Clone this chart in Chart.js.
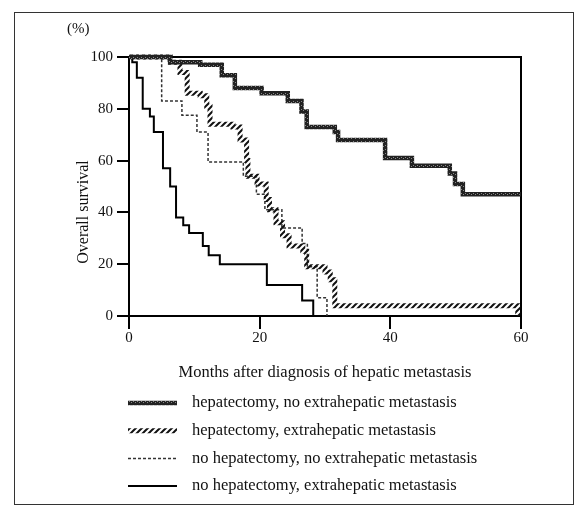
<!DOCTYPE html>
<html>
<head>
<meta charset="utf-8">
<script src="https://cdn.jsdelivr.net/npm/chart.js@4.4.0/dist/chart.umd.min.js"></script>
<style>
  html, body { margin: 0; padding: 0; background: #fff; }
  canvas { display: block; }
</style>
</head>
<body>
<canvas id="survivalChart" width="575" height="506"></canvas>
<script>
// Kaplan-Meier steps: month of each drop and survival (%) after it
const monthsA = [0, 6.3, 10.9, 14.2, 16.2, 20.3, 24.3, 26.4, 27.2, 31.5, 32.0, 39.2, 43.3, 49.1, 49.9, 51.1, 60];
const survA   = [100, 98, 97, 93, 88, 86, 83, 79, 73, 71, 68, 61, 58, 55, 51, 47, 47];

const monthsB = [0, 6.3, 7.8, 8.9, 10.9, 11.9, 12.4, 15.9, 17.0, 18.0, 18.2, 19.6, 21.0, 21.5, 22.5, 23.5, 24.5, 26.6, 27.2, 30.0, 30.8, 31.5, 59.5];
const survB   = [100, 98, 94, 86, 85, 81, 74, 73, 68, 60, 54, 51, 45, 41, 36, 31, 27, 25, 19, 17, 14, 4, 0];

const monthsC = [0, 5.0, 8.1, 10.4, 12.1, 17.5, 19.5, 20.8, 23.4, 26.5, 27.3, 28.8, 30.3];
const survC   = [100, 83, 77.5, 71, 59.5, 54, 47, 41, 34, 28, 19, 7, 0];

const monthsD = [0, 0.5, 1.2, 2.1, 3.2, 3.8, 5.2, 6.3, 7.2, 8.3, 9.2, 11.3, 12.2, 13.9, 21.1, 26.5, 28.2];
const survD   = [100, 98, 92, 80, 77, 71, 57, 50, 38, 35, 32, 27, 23.5, 20, 12, 6, 0];

const groupLabels = [
    'hepatectomy, no extrahepatic metastasis',
    'hepatectomy, extrahepatic metastasis',
    'no hepatectomy, no extrahepatic metastasis',
    'no hepatectomy, extrahepatic metastasis'
];
const xTicks = [0, 20, 40, 60];
const yTicks = [0, 20, 40, 60, 80, 100];

const SERIF = "'Liberation Serif', 'DejaVu Serif', serif";
const INK = '#111';

// hatched band like the printed figure
function hatchPattern() {
    const c = document.createElement('canvas');
    c.width = 6; c.height = 6;
    const g = c.getContext('2d');
    g.strokeStyle = '#111';
    g.lineWidth = 2;
    g.beginPath();
    g.moveTo(0, 6); g.lineTo(6, 0);
    g.moveTo(-3, 3); g.lineTo(3, -3);
    g.moveTo(3, 9); g.lineTo(9, 3);
    g.stroke();
    return g.createPattern(c, 'repeat');
}

// dark stippled band
function stipplePattern() {
    const c = document.createElement('canvas');
    c.width = 4; c.height = 4;
    const g = c.getContext('2d');
    g.fillStyle = '#222';
    g.fillRect(0, 0, 4, 4);
    g.fillStyle = '#8a8a8a';
    g.fillRect(1, 1, 1, 1);
    g.fillRect(3, 2, 1, 1);
    return g.createPattern(c, 'repeat');
}

const toPoints = (xs, ys) => xs.map((x, i) => ({ x: x, y: ys[i] }));

const paperPlugin = {
    id: 'paper',
    beforeDatasetsDraw(chart) {
        const ctx = chart.ctx;
        const a = chart.chartArea;
        ctx.save();
        ctx.strokeStyle = '#000';
        ctx.lineWidth = 2;
        ctx.beginPath();
        ctx.moveTo(a.left, a.top);
        ctx.lineTo(a.right, a.top);
        ctx.lineTo(a.right, a.bottom);
        ctx.stroke();
        ctx.restore();
    },
    afterDraw(chart) {
        const ctx = chart.ctx;
        ctx.save();

        // outer frame of the figure
        ctx.strokeStyle = '#333';
        ctx.lineWidth = 1;
        ctx.strokeRect(14.5, 12.5, 559, 492);

        ctx.fillStyle = INK;
        ctx.font = '15px ' + SERIF;
        ctx.textAlign = 'left';
        ctx.textBaseline = 'middle';
        ctx.fillText('(%)', 67, 29);

        // y title
        ctx.save();
        ctx.translate(84, 212);
        ctx.rotate(-Math.PI / 2);
        ctx.font = '16px ' + SERIF;
        ctx.textAlign = 'center';
        ctx.fillText('Overall survival', 0, 0);
        ctx.restore();

        // x title
        ctx.font = '16.5px ' + SERIF;
        ctx.textAlign = 'center';
        ctx.fillText('Months after diagnosis of hepatic metastasis', 325, 373);

        // legend
        chart.data.datasets.forEach((ds, i) => {
            const y = 403 + i * 27.7;
            ctx.save();
            ctx.strokeStyle = ds.borderColor;
            ctx.lineWidth = ds.borderWidth;
            ctx.setLineDash(ds.borderDash || []);
            ctx.beginPath();
            ctx.moveTo(128, y);
            ctx.lineTo(177, y);
            ctx.stroke();
            ctx.restore();
            ctx.textAlign = 'left';
            ctx.fillText(ds.label, 192, y);
        });
        ctx.restore();
    }
};

const baseSet = {
    stepped: 'before',
    pointRadius: 0,
    fill: false,
    tension: 0,
    clip: 8
};

new Chart(document.getElementById('survivalChart').getContext('2d'), {
    type: 'line',
    data: {
        datasets: [
            Object.assign({}, baseSet, {
                label: groupLabels[0],
                data: toPoints(monthsA, survA),
                borderColor: stipplePattern(),
                borderWidth: 4.5
            }),
            Object.assign({}, baseSet, {
                label: groupLabels[1],
                data: toPoints(monthsB, survB),
                borderColor: hatchPattern(),
                borderWidth: 5
            }),
            Object.assign({}, baseSet, {
                label: groupLabels[2],
                data: toPoints(monthsC, survC),
                borderColor: '#333',
                borderWidth: 1.5,
                borderDash: [3, 2]
            }),
            Object.assign({}, baseSet, {
                label: groupLabels[3],
                data: toPoints(monthsD, survD),
                borderColor: '#000',
                borderWidth: 2
            })
        ]
    },
    options: {
        responsive: false,
        animation: false,
        layout: { padding: { left: 0, top: 57, right: 54, bottom: 0 } },
        scales: {
            x: {
                type: 'linear',
                min: 0,
                max: 60,
                afterBuildTicks: s => { s.ticks = xTicks.map(v => ({ value: v })); },
                afterFit: s => { s.height = 190; },
                ticks: { color: INK, font: { family: SERIF, size: 15 }, padding: 0, maxRotation: 0 },
                grid: { drawOnChartArea: false, drawTicks: true, tickLength: 13, tickColor: '#000', lineWidth: 2 },
                border: { color: '#000', width: 2 }
            },
            y: {
                min: 0,
                max: 100,
                afterBuildTicks: s => { s.ticks = yTicks.map(v => ({ value: v })); },
                afterFit: s => { s.width = 129; },
                ticks: { color: INK, font: { family: SERIF, size: 15 }, padding: 4 },
                grid: { drawOnChartArea: false, drawTicks: true, tickLength: 12, tickColor: '#000', lineWidth: 2 },
                border: { color: '#000', width: 2 }
            }
        },
        plugins: {
            legend: { display: false },
            tooltip: { enabled: false },
            title: { display: false }
        }
    },
    plugins: [paperPlugin]
});
</script>
</body>
</html>
